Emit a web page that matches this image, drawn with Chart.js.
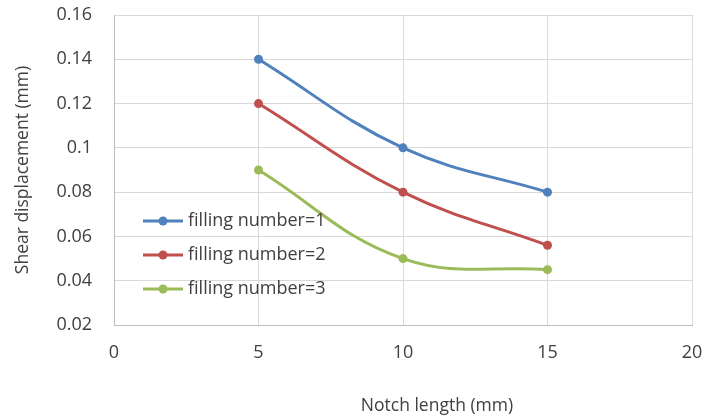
<!DOCTYPE html>
<html>
<head>
<meta charset="utf-8">
<script src="https://cdn.jsdelivr.net/npm/chart.js@4/dist/chart.umd.min.js"></script>
<style>
  html, body { margin: 0; padding: 0; background: #fff; }
  #wrap { width: 705px; height: 419px; position: relative; }
</style>
</head>
<body>
<div id="wrap"><canvas id="chart"></canvas></div>
<script>
// notch length (mm)
const notchLength = [5, 10, 15];

// shear displacement (mm) per filling number
const filling1 = [0.14, 0.10, 0.08];
const filling2 = [0.12, 0.08, 0.056];
const filling3 = [0.09, 0.05, 0.045];

const seriesNames = ['filling number=1', 'filling number=2', 'filling number=3'];
const seriesColors = ['#4F81BD', '#C0504D', '#9BBB59'];

const xTicks = [0, 5, 10, 15, 20];
const yTicks = [0.02, 0.04, 0.06, 0.08, 0.1, 0.12, 0.14, 0.16];

const xTitle = 'Notch length (mm)';
const yTitle = 'Shear displacement (mm)';

const FONT = '"Open Sans", "Liberation Sans", sans-serif';
const TEXT = '#404040';

function toPoints(ys) {
    return notchLength.map((x, i) => ({ x: x, y: ys[i] }));
}

const datasets = [filling1, filling2, filling3].map((ys, i) => ({
    label: seriesNames[i],
    data: toPoints(ys),
    borderColor: seriesColors[i],
    backgroundColor: seriesColors[i],
    borderWidth: 3,
    pointRadius: 4.5,
    pointBorderWidth: 0,
    pointHoverRadius: 4.5,
    tension: 0.4,
    fill: false
}));

// legend drawn inside the plot area, like the Excel original,
// plus the x title which sits right of centre in the original
const insideLegend = {
    id: 'insideLegend',
    afterDraw(chart) {
        const ctx = chart.ctx;
        const x0 = 143, x1 = 183, tx = 188;
        const rows = [221, 255, 289];
        ctx.save();
        chart.data.datasets.forEach((ds, i) => {
            const y = rows[i];
            ctx.strokeStyle = ds.borderColor;
            ctx.lineWidth = 3;
            ctx.beginPath();
            ctx.moveTo(x0, y);
            ctx.lineTo(x1, y);
            ctx.stroke();
            ctx.fillStyle = ds.borderColor;
            ctx.beginPath();
            ctx.arc((x0 + x1) / 2, y, 4.5, 0, Math.PI * 2);
            ctx.fill();
            ctx.fillStyle = TEXT;
            ctx.font = '18px ' + FONT;
            ctx.textBaseline = 'middle';
            ctx.textAlign = 'left';
            ctx.fillText(ds.label, tx, y);
        });

        ctx.font = '17.5px ' + FONT;
        ctx.textAlign = 'center';
        ctx.fillText(xTitle, 437, 406);
        ctx.restore();
    }
};

new Chart(document.getElementById('chart'), {
    type: 'line',
    data: { datasets: datasets },
    plugins: [insideLegend],
    options: {
        responsive: true,
        maintainAspectRatio: false,
        animation: false,
        layout: { padding: { top: 15, right: 13, left: 0, bottom: 0 } },
        plugins: {
            legend: { display: false },
            tooltip: { enabled: false }
        },
        scales: {
            x: {
                type: 'linear',
                min: 0,
                max: 20,
                afterBuildTicks: s => { s.ticks = xTicks.map(v => ({ value: v })); },
                afterFit: s => { s.height = 94; s.paddingLeft = 0; s.paddingRight = 0; },
                grid: { color: '#d9d9d9', drawTicks: false },
                border: { color: '#bfbfbf' },
                ticks: { color: TEXT, padding: 17, font: { family: FONT, size: 18 } }
            },
            y: {
                min: 0.02,
                max: 0.16,
                afterBuildTicks: s => { s.ticks = yTicks.map(v => ({ value: v })); },
                afterFit: s => { s.width = 114; s.paddingTop = 0; s.paddingBottom = 0; },
                grid: { color: '#d9d9d9', drawTicks: false },
                border: { color: '#bfbfbf' },
                ticks: {
                    color: TEXT,
                    padding: 22,
                    font: { family: FONT, size: 18 },
                    callback: v => String(+v.toFixed(2))
                },
                title: {
                    display: true,
                    text: yTitle,
                    color: TEXT,
                    font: { family: FONT, size: 17.5 },
                    padding: { top: 13, bottom: 0 }
                }
            }
        }
    }
});
</script>
</body>
</html>
